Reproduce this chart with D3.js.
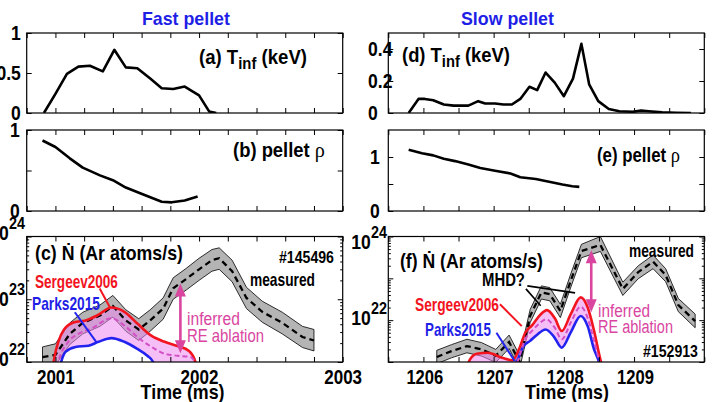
<!DOCTYPE html>
<html><head><meta charset="utf-8">
<script src="https://cdn.jsdelivr.net/npm/d3@7"></script>
<style>body{margin:0;background:#fff}svg{display:block}</style>
</head><body>
<svg id="chart" width="712" height="402"></svg>
<script>
// ---------------- data ----------------
const leftXTicks=[2000.8,2001,2001.2,2001.4,2001.6,2001.8,2002,2002.2,2002.4,2002.6,2002.8,2003];
const leftXLabels=[2001,2002,2003];
const rightXTicks=[1205.5,1206,1206.5,1207,1207.5,1208,1208.5,1209,1209.5,1210];
const rightXLabels=[1206,1207,1208,1209];

// (a) fast pellet T_inf (keV)
const aTime=[2000.92,2001.00,2001.08,2001.16,2001.24,2001.33,2001.41,2001.49,2001.57,2001.66,2001.74,2001.82,2001.90,2002.00,2002.07,2002.12];
const aTinf=[0,0.24,0.49,0.58,0.59,0.52,0.79,0.57,0.56,0.43,0.31,0.30,0.33,0.22,0.02,0];
// (b) fast pellet rho
const bTime=[2000.91,2001.00,2001.10,2001.19,2001.31,2001.40,2001.49,2001.59,2001.74,2001.81,2001.90,2001.99];
const bRho=[0.87,0.79,0.65,0.535,0.44,0.38,0.29,0.22,0.115,0.107,0.13,0.18];
// (c) fast pellet Ndot
const cTime=[2000.91,2001.00,2001.10,2001.19,2001.31,2001.40,2001.49,2001.58,2001.66,2001.75,2001.82,2001.91,2002.00,2002.09,2002.14,2002.23,2002.33,2002.44,2002.58,2002.72,2002.80];
const cMeasured=[1.2e22,1.3e22,2.8e22,4.2e22,5.5e22,7.8e22,4.6e22,3.3e22,4.6e22,7.1e22,1.5e23,2.1e23,3.0e23,4.2e23,4.5e23,2.8e23,1.05e23,6.3e22,4.2e22,2.5e22,2.2e22];
const cMeasuredHi=[1.74e22,1.95e22,4.2e22,6.2e22,8.1e22,1.15e23,6.8e22,4.9e22,6.8e22,1.05e23,2.2e23,3.1e23,4.5e23,6.2e23,6.6e23,4.2e23,1.55e23,9.3e22,6.2e22,3.7e22,3.3e22];
const cMeasuredLo=[7.9e21,8.9e21,1.9e22,2.8e22,3.7e22,5.2e22,3.1e22,2.2e22,3.1e22,4.8e22,1.0e23,1.4e23,2.0e23,2.8e23,3.0e23,1.9e23,7.1e22,4.3e22,2.8e22,1.7e22,1.5e22];
const cSergeevTime=[2000.975,2000.995,2001.02,2001.06,2001.13,2001.21,2001.29,2001.39,2001.48,2001.57,2001.67,2001.76,2001.85,2001.93,2001.975,2001.99];
const cSergeev=[6.3e21,1.26e22,2.1e22,3.3e22,4.3e22,4.6e22,5.5e22,7.4e22,6.3e22,4.1e22,2.6e22,2.1e22,1.8e22,1.5e22,1.0e22,7.1e21];
const cParksTime=[2001.02,2001.04,2001.07,2001.14,2001.23,2001.30,2001.39,2001.48,2001.57,2001.64,2001.68,2001.70];
const cParks=[6.3e21,1.0e22,1.45e22,1.74e22,1.82e22,2.1e22,2.4e22,2.1e22,1.62e22,1.26e22,1.0e22,7.1e21];
const cInferredTime=[2001.00,2001.02,2001.09,2001.16,2001.25,2001.39,2001.48,2001.59,2001.67,2001.76,2001.85,2001.94,2001.97,2001.985];
const cInferred=[6.3e21,1.0e22,2.1e22,2.8e22,3.4e22,5.0e22,3.8e22,2.3e22,1.74e22,1.35e22,1.26e22,1.2e22,1.0e22,7.1e21];
const cArrow=[2001.87,1.78e23,1.38e22];                 // time, top, bottom
const cSergeevPointer=[2001.308,1.48e23,2001.378,7.5e22];
const cParksPointer=[2001.135,6.2e22,2001.285,2.07e22];

// (d) slow pellet T_inf
const dTime=[1205.79,1205.93,1206.02,1206.14,1206.29,1206.43,1206.64,1206.78,1206.88,1207.02,1207.14,1207.26,1207.38,1207.51,1207.62,1207.74,1207.87,1208.00,1208.13,1208.25,1208.36,1208.49,1208.64,1208.79,1208.98,1209.10,1209.21,1209.40,1209.60,1209.81];
const dTinf=[0,0.088,0.088,0.08,0.053,0.046,0.046,0.074,0.059,0.059,0.053,0.053,0.088,0.164,0.143,0.253,0.19,0.105,0.215,0.432,0.179,0.074,0.025,0.011,0.008,0.015,0.011,0.004,0.002,0];
// (e) slow pellet rho
const eTime=[1205.79,1205.98,1206.14,1206.29,1206.45,1206.64,1206.81,1207.02,1207.24,1207.38,1207.60,1207.79,1207.98,1208.12,1208.22];
const eRho=[1.134,1.07,1.03,0.968,0.924,0.86,0.796,0.745,0.694,0.624,0.592,0.541,0.49,0.458,0.446];
// (f) slow pellet Ndot
const fTime=[1206.19,1206.40,1206.62,1206.83,1207.03,1207.22,1207.37,1207.52,1207.68,1207.80,1207.95,1208.10,1208.25,1208.52,1208.84,1209.06,1209.27,1209.45,1209.63,1209.87];
const fMeasured=[1.32e21,1.82e21,2.4e21,2.0e21,1.41e21,3.0e21,1.0e21,1.26e22,4.6e22,4.2e22,1.66e22,8.9e22,4.5e23,6.3e23,5.6e22,1.41e23,2.5e23,1.2e23,2.3e22,9.5e21];
const fMeasuredHi=[1.9e21,2.6e21,3.5e21,2.9e21,2.0e21,4.4e21,1.45e21,1.8e22,6.6e22,6.0e22,2.4e22,1.3e23,6.5e23,1.0e24,8.1e22,2.0e23,3.6e23,1.7e23,3.3e22,1.4e22];
const fMeasuredLo=[9.1e20,1.26e21,1.66e21,1.38e21,9.8e20,2.1e21,6.9e20,8.7e21,3.2e22,2.9e22,1.15e22,6.2e22,3.1e23,4.4e23,3.9e22,9.8e22,1.7e23,8.3e22,1.6e22,6.6e21];
const fSergeevTime=[1206.60,1206.66,1206.76,1206.92,1207.12,1207.27,1207.36,1207.45,1207.55,1207.66,1207.76,1207.87,1207.97,1208.10,1208.24,1208.34,1208.43,1208.53,1208.57];
const fSergeev=[6.3e20,1.12e21,1.58e21,1.66e21,1.26e21,1.1e21,2.0e21,5.0e21,7.6e21,1.32e22,1.74e22,1.12e22,5.5e21,1.41e22,3.5e22,2.0e22,5.6e21,1.0e21,6.3e20];
const fParksTime=[1207.28,1207.33,1207.42,1207.52,1207.62,1207.74,1207.86,1207.97,1208.10,1208.24,1208.34,1208.43,1208.50,1208.53];
const fParks=[6.3e20,1.0e21,2.3e21,3.2e21,4.5e21,6.0e21,4.0e21,2.2e21,5.2e21,1.26e22,7.1e21,2.0e21,1.0e21,6.3e20];
const fInferredTime=[1207.30,1207.36,1207.45,1207.55,1207.65,1207.75,1207.87,1207.97,1208.10,1208.24,1208.34,1208.43,1208.51,1208.55];
const fInferred=[6.3e20,1.26e21,3.5e21,5.6e21,8.3e21,1.05e22,6.6e21,3.5e21,8.9e21,2.1e22,1.12e22,3.2e21,1.0e21,6.3e20];
const fArrow=[1208.39,4.7e23,1.55e22];
const fSergeevPointer=[1207.09,2.4e22,1207.40,7.2e21];
const fParksPointer=[1207.04,5.0e21,1207.30,1.05e21];
const fMHDPointers=[[1207.48,6.6e22,1208.16,4.5e22],[1207.46,5.6e22,1207.67,2.2e22]];

// ---------------- setup ----------------
const FONT='"Liberation Sans", Arial, Helvetica, sans-serif';
const BLUE='#1e1ee6', RED='#f2141e', PBLUE='#2323f0', MAG='#d9459f', PINKD='#d24fc4';
const svg=d3.select('#chart');
const defs=svg.append('defs');

const xL=d3.scaleLinear().domain([2000.8,2003]).range([26.7,342.7]);
const xR=d3.scaleLinear().domain([1205.5,1210]).range([388.3,704.3]);
const yA=d3.scaleLinear().domain([0,1]).range([113,33]);
const yB=d3.scaleLinear().domain([0,1]).range([211,130]);
const yC=d3.scaleLog().domain([1e22,1e24]).range([362,236.5]);
const yD=d3.scaleLinear().domain([0,0.5]).range([113,33]);
const yE=d3.scaleLinear().domain([0,1.5]).range([211,130]);
const yF=d3.scaleLog().domain([1e21,1e24]).range([362,236.5]);

function label(x,y,parts,o={}){
  const t=svg.append('text').attr('font-family',o.family||FONT).attr('font-weight',o.weight||'bold')
    .attr('font-size',o.size||19.5).attr('fill',o.fill||'#000');
  if(typeof parts==='string') parts=[{t:parts}];
  parts.forEach(p=>{const s=t.append('tspan').text(p.t);
    if(p.size)s.attr('font-size',p.size); if(p.dy)s.attr('dy',p.dy);
    if(p.weight)s.attr('font-weight',p.weight); if(p.family)s.attr('font-family',p.family);});
  const bb=t.node().getBBox();
  const sx=o.w?o.w/bb.width:(o.sx||1);
  const a=o.anchor||'start';
  const left=a==='start'?x:a==='middle'?x-bb.width*sx/2:x-bb.width*sx;
  t.attr('transform',`translate(${left-bb.x*sx},${y}) scale(${sx},1)`);
  return t;
}

function plotArea(id,x,y){
  const [x0,x1]=x.range(),[yb,yt]=y.range();
  defs.append('clipPath').attr('id','cl'+id).append('rect')
    .attr('x',x0).attr('y',yt).attr('width',x1-x0).attr('height',yb-yt);
  return svg.append('g').attr('clip-path',`url(#cl${id})`);
}
function axes(x,y,xt,yMajor,yMinor){
  const g=svg.append('g');
  const [x0,x1]=x.range(),[yb,yt]=y.range();
  const nf=()=> '';
  g.append('g').attr('transform',`translate(0,${yb})`).call(d3.axisBottom(x).tickValues(xt).tickSize(-5).tickFormat(nf));
  g.append('g').attr('transform',`translate(0,${yt})`).call(d3.axisTop(x).tickValues(xt).tickSize(-5).tickFormat(nf));
  g.append('g').attr('transform',`translate(${x0},0)`).call(d3.axisLeft(y).tickValues(yMajor).tickSize(-5).tickFormat(nf));
  g.append('g').attr('transform',`translate(${x1},0)`).call(d3.axisRight(y).tickValues(yMajor).tickSize(-5).tickFormat(nf));
  if(yMinor){
    g.append('g').attr('transform',`translate(${x0},0)`).call(d3.axisLeft(y).tickValues(yMinor).tickSize(-2.5).tickFormat(nf));
    g.append('g').attr('transform',`translate(${x1},0)`).call(d3.axisRight(y).tickValues(yMinor).tickSize(-2.5).tickFormat(nf));
  }
  g.selectAll('.domain').remove();
  g.selectAll('text').remove();
  g.selectAll('line').attr('stroke','#000').attr('stroke-width',1);
  g.append('rect').attr('x',x0).attr('y',yt).attr('width',x1-x0).attr('height',yb-yt)
    .attr('fill','none').attr('stroke','#000').attr('stroke-width',1.2);
}
function simpleLine(g,x,y,ts,vs){
  g.append('path').datum(ts.map((t,i)=>[t,vs[i]]))
    .attr('d',d3.line().x(d=>x(d[0])).y(d=>y(d[1])))
    .attr('fill','none').attr('stroke','#000').attr('stroke-width',2.6).attr('stroke-linejoin','round');
}
function minorLog(lo,hi){const r=[];for(let e=lo;e<hi;e++)for(let m=2;m<10;m++)r.push(m*Math.pow(10,e));return r;}

function ndotPanel(id,x,y,t,mid,lo,hi,sT,sV,pT,pV,iT,iV,arrow,pointers,mhd){
  const g=plotArea(id,x,y);
  const [x0,x1]=x.range(),[yb,yt]=y.range();
  const band=t.map((d,i)=>({t:d,m:mid[i],lo:lo[i],hi:hi[i]}));
  g.append('path').datum(band).attr('d',d3.area().x(d=>x(d.t)).y0(d=>y(d.lo)).y1(d=>y(d.hi)))
    .attr('fill','#b4b4b4').attr('stroke','#000').attr('stroke-width',0.8);
  // pink fill between Sergeev (top) and Parks (bottom)
  const sData=sT.map((d,i)=>[d,sV[i]]), pData=pT.map((d,i)=>[d,pV[i]]), iData=iT.map((d,i)=>[d,iV[i]]);
  const under=d3.area().x(d=>x(d[0])).y0(yb+30).y1(d=>y(d[1])).curve(d3.curveMonotoneX);
  const m=defs.append('mask').attr('id','mk'+id).attr('maskUnits','userSpaceOnUse')
    .attr('x',0).attr('y',0).attr('width',712).attr('height',402);
  m.append('rect').attr('width',712).attr('height',402).attr('fill','#000');
  m.append('path').datum(sData).attr('d',under).attr('fill','#fff');
  m.append('path').datum(pData).attr('d',under).attr('fill','#000');
  g.append('rect').attr('x',x0).attr('y',yt).attr('width',x1-x0).attr('height',yb-yt)
    .attr('fill','#ee88ee').attr('fill-opacity',0.55).attr('mask',`url(#mk${id})`);
  g.append('path').datum(band).attr('d',d3.line().x(d=>x(d.t)).y(d=>y(d.m)))
    .attr('fill','none').attr('stroke','#000').attr('stroke-width',2.3).attr('stroke-dasharray','6,4');
  const smooth=d3.line().x(d=>x(d[0])).y(d=>y(d[1])).curve(d3.curveMonotoneX);
  g.append('path').datum(sData).attr('d',smooth).attr('fill','none').attr('stroke',RED).attr('stroke-width',2.6);
  g.append('path').datum(pData).attr('d',smooth).attr('fill','none').attr('stroke',PBLUE).attr('stroke-width',2.6);
  g.append('path').datum(iData).attr('d',smooth).attr('fill','none').attr('stroke',PINKD).attr('stroke-width',2).attr('stroke-dasharray','5,3');
  // pointers
  const ptr=(p,c,w)=>svg.append('line').attr('x1',x(p[0])).attr('y1',y(p[1])).attr('x2',x(p[2])).attr('y2',y(p[3]))
    .attr('stroke',c).attr('stroke-width',w);
  ptr(pointers[0],RED,2); ptr(pointers[1],PBLUE,2);
  if(mhd) mhd.forEach(p=>ptr(p,'#000',1.6));
  // double arrow
  const ax=x(arrow[0]), ay1=y(arrow[1]), ay2=y(arrow[2]), hl=13, hw=5.5;
  svg.append('line').attr('x1',ax).attr('x2',ax).attr('y1',ay1+hl-2).attr('y2',ay2-hl+2)
    .attr('stroke',MAG).attr('stroke-width',2.6);
  svg.append('path').attr('d',`M${ax},${ay1}L${ax-hw},${ay1+hl}L${ax+hw},${ay1+hl}Z`).attr('fill',MAG);
  svg.append('path').attr('d',`M${ax},${ay2}L${ax-hw},${ay2-hl}L${ax+hw},${ay2-hl}Z`).attr('fill',MAG);
  axes(x,y,x===xL?leftXTicks:rightXTicks,y.domain()[0]===1e22?[1e22,1e23,1e24]:[1e21,1e22,1e23,1e24],
       y.domain()[0]===1e22?minorLog(22,24):minorLog(21,24));
}

// ---------------- panels ----------------
{const g=plotArea('a',xL,yA); simpleLine(g,xL,yA,aTime,aTinf); axes(xL,yA,leftXTicks,[0,0.5,1]);}
{const g=plotArea('b',xL,yB); simpleLine(g,xL,yB,bTime,bRho); axes(xL,yB,leftXTicks,[0,0.5,1]);}
{const g=plotArea('d',xR,yD); simpleLine(g,xR,yD,dTime,dTinf); axes(xR,yD,rightXTicks,[0,0.2,0.4]);}
{const g=plotArea('e',xR,yE); simpleLine(g,xR,yE,eTime,eRho); axes(xR,yE,rightXTicks,[0,0.5,1]);}
ndotPanel('c',xL,yC,cTime,cMeasured,cMeasuredLo,cMeasuredHi,cSergeevTime,cSergeev,cParksTime,cParks,
  cInferredTime,cInferred,cArrow,[cSergeevPointer,cParksPointer],null);
ndotPanel('f',xR,yF,fTime,fMeasured,fMeasuredLo,fMeasuredHi,fSergeevTime,fSergeev,fParksTime,fParks,
  fInferredTime,fInferred,fArrow,[fSergeevPointer,fParksPointer],fMHDPointers);

// ---------------- tick labels ----------------
const NS=0.9;
[[1,'1'],[0.5,'0.5'],[0,'0']].forEach(([v,s])=>label(21,yA(v)+7,s,{anchor:'end',sx:NS}));
[[1,'1'],[0,'0']].forEach(([v,s])=>label(20,yB(v)+7,s,{anchor:'end',sx:NS}));
[[0.4,'0.4'],[0.2,'0.2'],[0,'0']].forEach(([v,s])=>label(368,yD(v)+7,s,{sx:NS}));
[[1,'1'],[0,'0']].forEach(([v,s])=>label(380,yE(v)+7,s,{anchor:'end',sx:NS}));
[[1e24,'24',240],[1e23,'23',306],[1e22,'22',366]].forEach(([v,e,b])=>
  label(25,b,[{t:'10'},{t:e,size:16,dy:-11}],{anchor:'end',sx:NS}));
[[1e24,'24',249],[1e22,'22',325]].forEach(([v,e,b])=>
  label(387,b,[{t:'10'},{t:e,size:16,dy:-11}],{anchor:'end',sx:NS}));
leftXLabels.forEach(v=>label(xL(v)+0.5,384,String(v),{anchor:'middle',w:38}));
rightXLabels.forEach(v=>label(xR(v)+1.5,384,String(v),{anchor:'middle',w:37}));
label(182.6,399,'Time (ms)',{anchor:'middle',w:84});
label(567,399,'Time (ms)',{anchor:'middle',w:84});

// ---------------- titles & annotations ----------------
label(186,25,'Fast pellet',{anchor:'middle',size:18,fill:BLUE,w:88});
label(507.5,25,'Slow pellet',{anchor:'middle',size:18,fill:BLUE,w:93});
const tinf=p=>[{t:p+' T'},{t:'inf',size:16,dy:5},{t:' (keV)',dy:-5}];
label(199,64,tinf('(a)'),{size:20,w:108});
label(402,62,tinf('(d)'),{size:20,w:108});
const rho=p=>[{t:p+' pellet '},{t:'ρ',weight:'normal',family:'"Liberation Serif", serif',size:22}];
label(233,157,rho('(b)'),{size:20,w:92});
label(597,162,rho('(e)'),{size:20,w:83});
label(35,260,'(c) Ṅ (Ar atoms/s)',{size:20,w:148});
label(400,268,'(f) Ṅ (Ar atoms/s)',{size:20,w:143});
label(279,263,'#145496',{size:17,w:55});
label(250,286,'measured',{size:18,w:65});
label(35,288,'Sergeev2006',{size:18,fill:RED,w:83});
label(32,310,'Parks2015',{size:18,fill:BLUE,w:68});
label(187,325,'inferred',{size:19,weight:'normal',fill:MAG,w:53});
label(187,342,'RE ablation',{size:19,weight:'normal',fill:MAG,w:77});
label(629,257,'measured',{size:18,w:65});
label(482,286,'MHD?',{size:18,w:43});
label(415,311,'Sergeev2006',{size:18,fill:RED,w:84});
label(425,336,'Parks2015',{size:18,fill:BLUE,w:66});
label(598,317,'inferred',{size:19,weight:'normal',fill:MAG,w:52});
label(598,333,'RE ablation',{size:19,weight:'normal',fill:MAG,w:75});
label(643,357,'#152913',{size:17,w:55});
</script>
</body></html>
